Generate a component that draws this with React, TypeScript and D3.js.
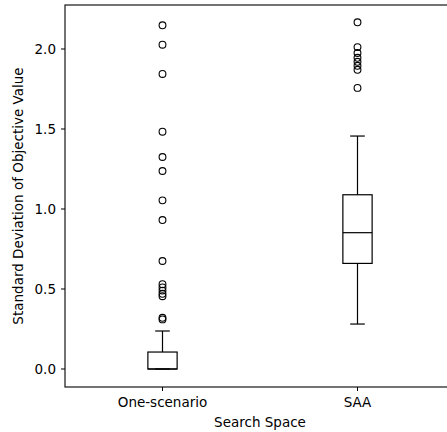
import React from "react";
import * as d3 from "d3";

const categories = ["One-scenario", "SAA"];
const q1 = [0.0, 0.66];
const medians = [0.0, 0.852];
const q3 = [0.106, 1.089];
const whiskerLow = [0.0, 0.281];
const whiskerHigh = [0.2375, 1.456];
const outliers = [
  [2.148, 2.027, 1.844, 1.483, 1.325, 1.2375, 1.054, 0.931, 0.675, 0.53, 0.51, 0.49, 0.47, 0.455, 0.32, 0.31],
  [2.167, 2.012, 1.975, 1.945, 1.92, 1.895, 1.87, 1.757],
];
const yTicks = [0.0, 0.5, 1.0, 1.5, 2.0];

const W = 447;
const H = 432;
const left = 65;
const right = 455;
const top = 5;
const bottom = 387;

export default function App() {
  const x = d3.scaleLinear().domain([0.5, 2.5]).range([left, right]);
  const y = d3.scaleLinear().domain([-0.1125, 2.275]).range([bottom, top]);
  const halfBox = x(1.075) - x(1);
  const halfCap = halfBox / 2;
  const font = "DejaVu Sans, sans-serif";
  const fs = 13.5;

  return (
    <svg
      width={W}
      height={H}
      style={{ position: "absolute", left: 0, top: 0, background: "#fff" }}
      fontFamily={font}
    >
      {categories.map((c, i) => {
        const cx = x(i + 1);
        return (
          <g key={c} stroke="#000" strokeWidth={1.2} fill="none">
            <line x1={cx} x2={cx} y1={y(q3[i])} y2={y(whiskerHigh[i])} />
            <line x1={cx} x2={cx} y1={y(q1[i])} y2={y(whiskerLow[i])} />
            <line x1={cx - halfCap} x2={cx + halfCap} y1={y(whiskerHigh[i])} y2={y(whiskerHigh[i])} />
            <line x1={cx - halfCap} x2={cx + halfCap} y1={y(whiskerLow[i])} y2={y(whiskerLow[i])} />
            <rect
              x={cx - halfBox}
              y={y(q3[i])}
              width={halfBox * 2}
              height={y(q1[i]) - y(q3[i])}
            />
            <line x1={cx - halfBox} x2={cx + halfBox} y1={y(medians[i])} y2={y(medians[i])} />
            {outliers[i].map((v, j) => (
              <circle key={j} cx={cx} cy={y(v)} r={3.4} strokeWidth={1.1} />
            ))}
          </g>
        );
      })}

      {/* spines */}
      <rect
        x={left}
        y={top}
        width={right - left}
        height={bottom - top}
        fill="none"
        stroke="#000"
        strokeWidth={1.1}
      />

      {yTicks.map((t) => (
        <g key={t} transform={`translate(${left},${y(t)})`}>
          <line x1={-4} x2={0} stroke="#000" />
          <text x={-9} dy="0.36em" textAnchor="end" fontSize={fs} fill="#000">
            {t.toFixed(1)}
          </text>
        </g>
      ))}

      {categories.map((c, i) => (
        <g key={c} transform={`translate(${x(i + 1)},${bottom})`}>
          <line y1={0} y2={4} stroke="#000" />
          <text y={20} textAnchor="middle" fontSize={fs} fill="#000">
            {c}
          </text>
        </g>
      ))}

      <text
        x={(left + right) / 2}
        y={427}
        textAnchor="middle"
        fontSize={fs}
        fill="#000"
      >
        Search Space
      </text>
      <text
        transform={`translate(23,${(top + bottom) / 2}) rotate(-90)`}
        textAnchor="middle"
        fontSize={fs}
        fill="#000"
      >
        Standard Deviation of Objective Value
      </text>
    </svg>
  );
}
